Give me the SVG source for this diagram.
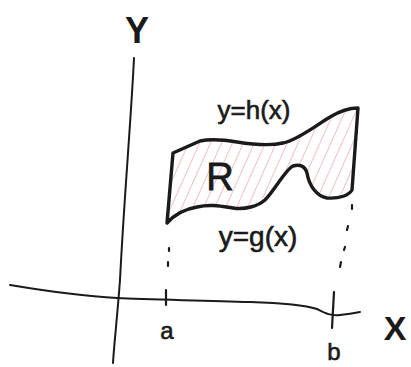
<svg xmlns="http://www.w3.org/2000/svg" width="411" height="367" viewBox="0 0 411 367">
<style>
.ink{fill:none;stroke:#1a1a1a;stroke-linecap:round;stroke-linejoin:round}
.lbl{font-family:"Liberation Sans",Arial,sans-serif;fill:#1a1a1a}
.dot{stroke:#1a1a1a;stroke-width:2.2;stroke-linecap:round;fill:none}
</style>
<defs>
<pattern id="hatch" width="10" height="10" patternUnits="userSpaceOnUse" patternTransform="rotate(24)">
<line x1="0" y1="0" x2="0" y2="10" stroke="#e27482" stroke-width="1.1" opacity="0.85"/>
</pattern>
<clipPath id="regclip">
<path d="M173,153 L200,141 C210,139 225,140 237,142 C250,144 270,146 283,143 C298,140 318,124 330,117 C340,111 350,108 358,108 L352,190 C349,195 340,199 327,198 C316,196 309,185 307,173 C305,166 300,164 293,166 C285,170 275,190 265,200 C258,206 245,210 233,208 C220,206 210,204 197,207 C185,209 175,214 167,223 Z"/>
</clipPath>
</defs>
<rect width="411" height="367" fill="#fff"/>
<g id="axes">
<path class="ink" stroke-width="2" d="M134,58 C131,120 124,200 120,280 C117,320 114,345 113,363"/>
<path class="ink" stroke-width="2" d="M10,285 C40,290 80,296 117,298 C150,300 200,300 250,302 C285,303 305,305 317,309 C325,313 330,316 340,315 C350,314 355,313 360,312"/>
<path class="ink" stroke-width="2.2" d="M166,290 L166,305"/>
<path class="ink" stroke-width="2.2" d="M334,292 L332,328"/>
</g>
<g id="region">
<rect x="160" y="100" width="205" height="130" fill="url(#hatch)" clip-path="url(#regclip)"/>
<path class="ink" stroke-width="3.4" d="M173,153 L200,141 C210,139 225,140 237,142 C250,144 270,146 283,143 C298,140 318,124 330,117 C340,111 350,108 358,108 L352,190 C349,195 340,199 327,198 C316,196 309,185 307,173 C305,166 300,164 293,166 C285,170 275,190 265,200 C258,206 245,210 233,208 C220,206 210,204 197,207 C185,209 175,214 167,223 Z"/>
</g>
<g id="dotted-lines">
<path class="dot" d="M169,248 L169,251 M168,262 L168,266 M352,205 L352,209 M348,226 L347,230 M345,247 L344,250 M341,262 L340,267"/>
</g>
<g id="labels">
<text class="lbl" x="137" y="43" font-size="36" font-weight="bold" text-anchor="middle">Y</text>
<text class="lbl" x="395" y="340" font-size="34" font-weight="bold" text-anchor="middle">X</text>
<text class="lbl" x="167" y="339" font-size="24" text-anchor="middle" stroke="#1a1a1a" stroke-width="0.6">a</text>
<text class="lbl" x="334" y="360" font-size="24" text-anchor="middle" stroke="#1a1a1a" stroke-width="0.6">b</text>
<text class="lbl" x="254" y="119" font-size="26" text-anchor="middle" stroke="#1a1a1a" stroke-width="0.6">y=h(x)</text>
<text class="lbl" x="258" y="246" font-size="28" text-anchor="middle" stroke="#1a1a1a" stroke-width="0.6">y=g(x)</text>
<text class="lbl" x="220" y="190" font-size="38" text-anchor="middle" stroke="#1a1a1a" stroke-width="0.8">R</text>
</g>
</svg>
